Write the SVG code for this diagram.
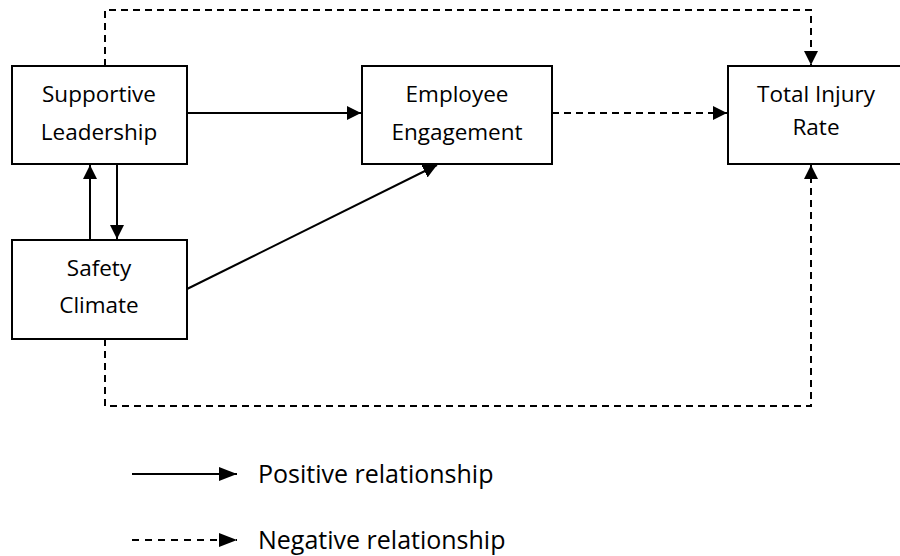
<svg xmlns="http://www.w3.org/2000/svg" width="900" height="556" viewBox="0 0 900 556">
<style>
.box{fill:#fff;stroke:#000;stroke-width:2}
.t{font-family:"Open Sans","Liberation Sans",sans-serif;font-size:22.5px;fill:#000;text-anchor:middle}
.lt{font-family:"Open Sans","Liberation Sans",sans-serif;font-size:25px;fill:#000}
.c{fill:none;stroke:#000;stroke-width:2}
.d{stroke-dasharray:7 5}
.ld{stroke-dasharray:7 6}
</style>
<defs>
<marker id="ah" viewBox="0 0 14 14" refX="14" refY="7" markerWidth="14" markerHeight="14" markerUnits="userSpaceOnUse" orient="auto">
<path d="M0,0L14,7L0,14Z" fill="#000"/>
</marker>
<marker id="lah" viewBox="0 0 18 14" refX="18" refY="7" markerWidth="18" markerHeight="14" markerUnits="userSpaceOnUse" orient="auto">
<path d="M0,0L18,7L0,14Z" fill="#000"/>
</marker>
</defs>
<rect width="900" height="556" fill="#fff"/>
<g id="connectors">
<path class="c" d="M187,113H361" marker-end="url(#ah)"/>
<path class="c d" d="M552,113H727" marker-end="url(#ah)"/>
<path class="c" d="M90,240V165" marker-end="url(#ah)"/>
<path class="c" d="M117,164V239" marker-end="url(#ah)"/>
<path class="c" d="M187,289L437,165" marker-end="url(#ah)"/>
<path class="c d" d="M105,66V10H811V65" marker-end="url(#ah)"/>
<path class="c d" d="M105,339V406H811V165" marker-end="url(#ah)"/>
</g>
<g id="supportive-leadership">
<rect class="box" x="12" y="66" width="175" height="98"/>
<text class="t" x="99" y="102">Supportive</text>
<text class="t" x="99" y="140">Leadership</text>
</g>
<g id="safety-climate">
<rect class="box" x="12" y="240" width="175" height="99"/>
<text class="t" x="99" y="276">Safety</text>
<text class="t" x="99" y="313">Climate</text>
</g>
<g id="employee-engagement">
<rect class="box" x="362" y="66" width="190" height="98"/>
<text class="t" x="457" y="102">Employee</text>
<text class="t" x="457" y="140">Engagement</text>
</g>
<g id="total-injury-rate">
<rect class="box" x="728" y="66" width="180" height="98"/>
<text class="t" x="816" y="102">Total Injury</text>
<text class="t" x="816" y="135">Rate</text>
</g>
<g id="legend">
<path class="c" d="M132,474H237" marker-end="url(#lah)"/>
<text class="lt" x="258" y="483">Positive relationship</text>
<path class="c ld" d="M132,540H237" marker-end="url(#lah)"/>
<text class="lt" x="258" y="549">Negative relationship</text>
</g>
</svg>
